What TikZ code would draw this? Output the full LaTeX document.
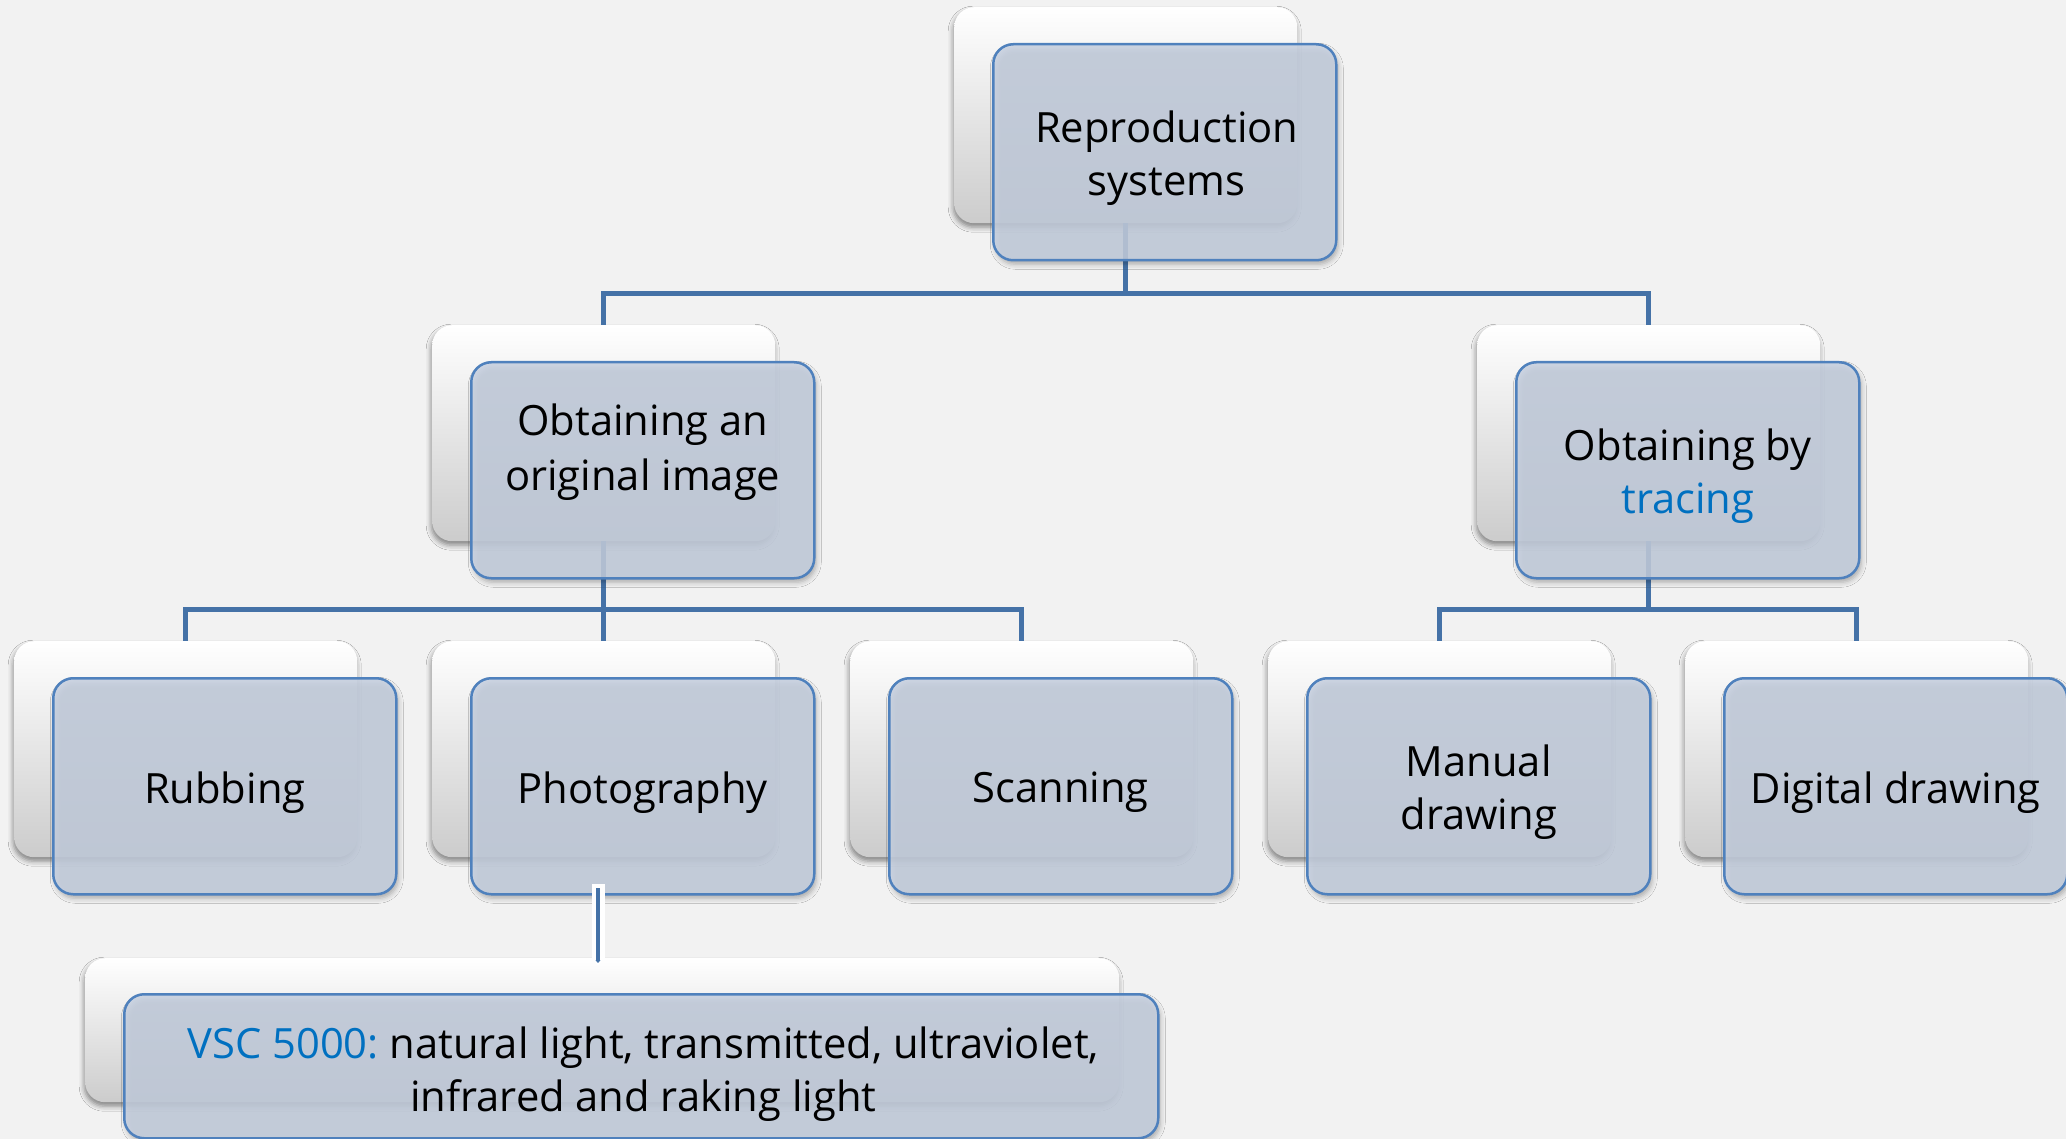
\documentclass[tikz,border=0pt]{standalone}
\usepackage{fontspec}
\setmainfont{Open Sans}
\usetikzlibrary{shadows.blur,calc,arrows.meta}
\definecolor{bgc}{RGB}{242,242,242}
\definecolor{connc}{RGB}{69,114,167}
\definecolor{frontfill}{RGB}{199,209,225}
\definecolor{frontdraw}{RGB}{79,129,189}
\definecolor{hl}{RGB}{0,112,192}
\tikzset{
  backbox/.style={rectangle, rounded corners=20pt, inner sep=0pt, anchor=north west,
    minimum width=343pt, minimum height=216pt,
    top color=white, middle color=white, bottom color=black!20,
    blur shadow={shadow xshift=-1pt, shadow yshift=-4pt, shadow blur radius=5pt, shadow opacity=45}},
  frontbox/.style={rectangle, rounded corners=20pt, inner sep=0pt, anchor=north west,
    minimum width=343pt, minimum height=216pt,
    draw=frontdraw, line width=2.5pt, fill=frontfill, fill opacity=0.85,
    blur shadow={shadow xshift=2pt, shadow yshift=-4pt, shadow blur radius=5pt, shadow opacity=35}},
  txt/.style={align=center, inner sep=0pt, font=\fontsize{41.7}{52.7}\selectfont},
  connector/.style={draw=connc, line width=4.5pt, line join=miter}
}
\begin{document}
\begin{tikzpicture}[x=1pt, y={(0pt,-1pt)}]
\fill[bgc] (0,0) rectangle (2066,1139);
\useasboundingbox (0,0) rectangle (2066,1139);

% back boxes
\node[backbox] (rootB) at (954,7) {};
\node[backbox] (origB) at (432,325) {};
\node[backbox] (tracB) at (1477,325) {};
\node[backbox] (rubB) at (14,641) {};
\node[backbox] (photoB) at (432,641) {};
\node[backbox] (scanB) at (850,641) {};
\node[backbox] (manB) at (1268,641) {};
\node[backbox] (digB) at (1685,641) {};
\node[backbox, minimum width=1034pt, minimum height=144pt] (vscB) at (85,958) {};

% connectors
\draw[connector] (rootB.south) -- ++(0,70) -| (origB.north);
\draw[connector] (rootB.south) -- ++(0,70) -| (tracB.north);
\draw[connector] (origB.south) -- ++(0,68) -| (rubB.north);
\draw[connector] (origB.south) -- ++(0,68) -| (photoB.north);
\draw[connector] (origB.south) -- ++(0,68) -| (scanB.north);
\draw[connector] (tracB.south) -- ++(0,68) -| (manB.north);
\draw[connector] (tracB.south) -- ++(0,68) -| (digB.north);

% front boxes
\node[frontbox] (root) at (992,43) {};
\node[frontbox] (orig) at (470,361) {};
\node[frontbox] (trac) at (1515,361) {};
\node[frontbox] (rub) at (52,677) {};
\node[frontbox] (photo) at (470,677) {};
\node[frontbox] (scan) at (888,677) {};
\node[frontbox] (man) at (1306,677) {};
\node[frontbox] (dig) at (1723,677) {};
\node[frontbox, minimum width=1034pt, minimum height=144pt] (vsc) at (123,993) {};

% texts
\node[txt] (rootT) at ($(root.center)+(2,6)$) {Reproduction\\systems};
\node[txt, font=\fontsize{41.7}{55}\selectfont] (origT) at ($(orig.center)+(0,-18)$) {Obtaining an\\original image};
\node[txt] (tracT) at ($(trac.center)+(0,6)$) {Obtaining by\\{\color{hl}tracing}};
\node[txt] (rubT) at ($(rub.center)+(0,6)$) {Rubbing};
\node[txt] (photoT) at ($(photo.center)+(0,6)$) {Photography};
\node[txt] (scanT) at ($(scan.center)+(0,6)$) {Scanning};
\node[txt] (manT) at ($(man.center)+(0,6)$) {Manual\\drawing};
\node[txt] (digT) at ($(dig.center)+(0,6)$) {Digital drawing};
\node[txt] (vscT) at ($(vsc.center)+(2,8)$)
  {{\color{hl}VSC 5000:}~natural light, transmitted, ultraviolet,\\infrared and raking light};

% photography -> VSC
\coordinate (pv1) at (598,884);
\coordinate (pv2) at (598,958);
\coordinate (pv3) at (598,966);
\draw[white, line width=13pt] (pv1) -- (pv2);
\fill[white] ($(pv2)+(-7,0)$) -- ($(pv2)+(7,0)$) -- (pv3) -- cycle;
\draw[connc, line width=4pt, -{Triangle[length=3pt,width=5pt]}] ($(pv1)+(0,4)$) -- ($(pv3)+(0,-3)$);
\end{tikzpicture}
\end{document}
